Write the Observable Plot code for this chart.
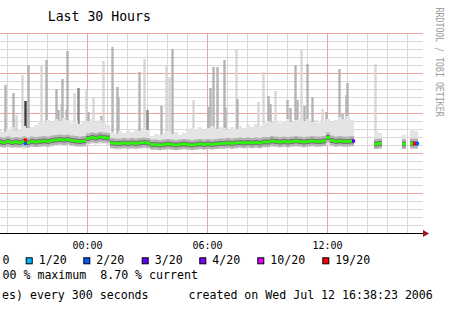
<!DOCTYPE html>
<html><head><meta charset="utf-8">
<script src="https://cdn.jsdelivr.net/npm/d3@7"></script>
<script src="https://cdn.jsdelivr.net/npm/@observablehq/plot@0.6"></script>
<style>
html,body{margin:0;padding:0;background:#fff;}
#wrap{position:relative;width:450px;height:313px;overflow:hidden;background:#fff;}
#wrap svg{position:absolute;left:0;top:0;}
</style></head><body><div id="wrap"></div>
<script>
// ---- data (RRD-style: start time + 12-minute step) ----
const startTime = "11 19:39";
const endTime = "12 16:48";
const stepMinutes = 12;
const median = [91.5, 91, 92, 91, 91.5, 91, 92, 91, 92, 91.5,
 92, 92.5, 92, 93, 93.5, 94, 93.5, 94, 93, 92.5,
 92, 92.5, 95, 96, 95.5, 96.5, 96, 95.5, 90.5, 90,
 90, 90.5, 90, 90.5, 90, 90.5, 91, 90.5, 89, 89,
 88.5, 89, 89.5, 89, 88.5, 89, 89.5, 89, 88.5, 89,
 89.5, 89, 89.5, 89, 89.5, 90, 90, 90.5, 90, 90.5,
 91, 90.5, 91, 90.5, 91, 90.5, 91.5, 91.5, 92.5, 92,
 91.5, 92, 91.5, 92, 92.5, 92, 91.5, 92, 92.5, 92,
 92, 92.5, 96, 93, 92, 92.5, 92, 92, 92.5,
 null, null, null, null, null, 89.5, 90, null, null, null, null, null, 89.5, null, 90, 90, null];
const smokeLow = [86, 86, 85.5, 86, 85, 86, 84, 85.5,
 86, 86.5, 86, 86, 85.5, 86, 87, 87.5, 87, 87.5, 87, 86, 86.5, 86,
 88, 89, 88.5, 89, 89, 88,
 84, 83.5, 83.5, 84, 83.5, 84, 83.5, 84, 84.5, 84,
 83, 83, 82.5, 83, 83.5, 83, 82.5, 83, 83.5, 83, 82.5, 83, 83.5, 83, 83.5, 84, 84, 84,
 84, 84.5, 84, 84.5, 85, 84.5, 85, 84.5, 85, 84.5, 85.5, 85.5, 86, 86, 85.5, 86, 85.5, 86, 86.5, 86,
 85.5, 86, 86.5, 86, 86, 86.5, 88, 86.5, 86, 86.5, 86, 86, 86.5,
 null, null, null, null, null, 84, 84.5, null, null, null, null, null, 84, null, 84.5, 84, null];
const smokeHigh = [103, 101, 104, 106, 102, 104, 107, 105,
 106, 108, 112, 110, 113, 111, 114, 112, 115, 113, 110, 112, 109, 111,
 112, 114, 111, 113, 110, 108,
 101, 99, 102, 100, 103, 101, 104, 102, 105, 103,
 97, 99, 98, 100, 102, 99, 101, 98, 100, 103, 105, 104, 106, 103, 105, 107, 104, 106,
 105, 103, 106, 104, 107, 105, 108, 106, 109, 107, 110, 112, 111, 113, 110, 112, 114, 111, 113, 115,
 112, 114, 111, 113, 110, 112, 114, 111, 113, 116, 114, 117, 113,
 null, null, null, null, null, 102, 100, null, null, null, null, null, 98, null, 104, 102, null];

const spikeTimes = ["11 19:54","11 20:18","11 20:27","11 20:45","11 20:54","11 21:03","11 21:42","11 21:57","11 22:27","11 22:33",
 "11 22:42","11 22:45","11 22:57","11 23:00","11 23:21","11 23:33","11 23:57","12 00:03","12 00:18","12 00:42",
 "12 00:48","12 01:15","12 01:30","12 01:33","12 02:36","12 02:51","12 03:00","12 03:42","12 03:57","12 04:06",
 "12 04:15","12 05:18","12 06:03","12 06:09","12 06:18","12 06:30","12 06:51","12 06:54","12 07:27","12 07:30",
 "12 08:33","12 08:48","12 09:03","12 09:09","12 09:24","12 10:00","12 10:09","12 10:24","12 10:30","12 10:42",
 "12 10:51","12 11:00","12 11:15","12 11:45","12 11:57","12 12:36","12 12:45","12 12:57","12 13:00","12 14:24"];
const spikeTops = [148,140,118,158,132,168,168,173,144,123, 129,154,123,182,140,145,144,121,135,117,
 172,186,146,136,161,174,123,127,168,156, 184,133,126,145,166,166,173,125,184,134,
 131,161,137,129,142,133,125,168,133,183, 127,169,136,124,121,164,119,138,150,169];
const spikeShades = ["m","m","l","l","k","m","l","m","m","m", "l","m","m","m","l","d","l","m","l","m",
 "l","m","m","m","m","l","d","m","l","l", "m","l","m","m","m","m","m","m","l","m",
 "l","l","m","m","l","m","m","m","m","l", "m","m","m","l","m","m","m","m","m","l"];

const lossTimes = ["11 20:54", "11 20:54", "12 13:18", "12 16:21", "12 16:30"];
const lossValues = [93.5, 90, 92.5, 90, 90];
const lossLevels = [19, 2, 3, 19, 2];

const legendLevels = [1, 2, 3, 4, 10, 19];
const legendLabels = ["1/20", "2/20", "3/20", "4/20", "10/20", "19/20"];
const xTickTimes = ["12 00:00", "12 06:00", "12 12:00"];
const titleText = "Last 30 Hours";
const statsText = "00 % maximum  8.70 % current";
const stepText = "es) every 300 seconds";
const createdText = "created on Wed Jul 12 16:38:23 2006";
const watermark = "RRDTOOL / TOBI OETIKER";

// ---- helpers ----
const T = s => { const [d, hm] = s.split(" "); const [h, m] = hm.split(":").map(Number); return new Date(Date.UTC(2006, 6, +d, h, m)); };
const lossColor = {0: "#26ff00", 1: "#00b8ff", 2: "#0059ff", 3: "#5e00ff", 4: "#7e00ff", 10: "#dd00ff", 19: "#ff0000"};
const shadeColor = {l: "#d6d6d6", m: "#b4b4b4", d: "#888888", k: "#3c3c3c"};
const t0 = T(startTime), t1 = T(endTime);
const stepMs = stepMinutes * 60e3;
const samples = median.map((v, i) => ({t: new Date(+t0 + i * stepMs), med: v, lo: smokeLow[i], hi: smokeHigh[i]}))
  .filter(d => d.med != null);
const half = stepMs / 2;
const x1 = d => new Date(+d.t - half), x2 = d => new Date(+d.t + half);
const spikes = spikeTimes.map((s, i) => ({t: T(s), top: spikeTops[i], shade: spikeShades[i]}));
const losses = lossTimes.map((s, i) => ({t: T(s), v: lossValues[i], level: lossLevels[i]}));

const hours = d3.utcHour.range(t0, t1);
const minorHours = hours.filter(h => h.getUTCHours() % 6 !== 0);
const majorHours = hours.filter(h => h.getUTCHours() % 6 === 0);
const yMinor = d3.range(0, 201, 8).filter(v => v % 40 !== 0);
const yMajor = d3.range(0, 201, 40);

const chart = Plot.plot({
  width: 450, height: 313,
  marginLeft: 0, marginRight: 27, marginTop: 33, marginBottom: 80,
  style: {fontFamily: "'DejaVu Sans Mono', monospace", background: "transparent", overflow: "visible"},
  x: {type: "utc", domain: [t0, t1], label: null, axis: null},
  y: {domain: [0, 200], label: null, axis: null},
  marks: [
    Plot.ruleY(yMinor, {stroke: "#d8d8d8"}),
    Plot.ruleX(minorHours, {stroke: "#d8d8d8"}),
    Plot.ruleY(yMajor, {stroke: "#eea4a4"}),
    Plot.ruleX(majorHours, {stroke: "#eea4a4"}),
    Plot.ruleX(spikes, {x: "t", y1: 90, y2: "top", stroke: d => shadeColor[d.shade], strokeWidth: 2.4}),
    Plot.rect(samples, {x1, x2, y1: "lo", y2: "hi", fill: "#e4e4e4"}),
    Plot.ruleY(samples, {x1, x2, y: "med", stroke: "#b4b4b4", strokeWidth: 10}),
    Plot.ruleY(samples, {x1, x2, y: "med", stroke: "#777777", strokeWidth: 5}),
    Plot.ruleY(samples, {x1, x2, y: "med", stroke: lossColor[0], strokeWidth: 2.6}),
    Plot.dot(losses, {x: "t", y: "v", symbol: "square", r: 1.8, fill: d => lossColor[d.level]}),
    Plot.ruleY([0], {stroke: "#000"}),
    Plot.dot([t1], {x: d => d, y: 0, symbol: "triangle", rotate: 90, r: 2.6, fill: "#a01818", dx: 1.5}),
    Plot.axisX(xTickTimes.map(T), {tickFormat: d3.utcFormat("%H:%M"), tickSize: 0, tickPadding: 8, fontSize: 10, fill: "#000", label: null})
  ]
});
const wrap = document.getElementById("wrap");
wrap.appendChild(chart);

// ---- text overlay (title, legend, footer, watermark) ----
const ov = d3.create("svg").attr("width", 450).attr("height", 313)
  .style("font-family", "'DejaVu Sans Mono', monospace");
const txt = (x, y, s, size, fill = "#000") => ov.append("text").attr("x", x).attr("y", y)
  .attr("font-size", size).attr("fill", fill).attr("xml:space", "preserve").style("white-space", "pre").text(s);
txt(47.7, 20.7, titleText, 13.2);
txt(2.5, 264.3, "0", 11.6);
const boxX = [25.7, 83.3, 141.7, 199.3, 257.3, 322.3];
legendLevels.forEach((lv, i) => {
  ov.append("rect").attr("x", boxX[i] + 0.5).attr("y", 257.8).attr("width", 6).attr("height", 6)
    .attr("fill", lossColor[lv]).attr("stroke", "#000").attr("stroke-width", 1);
  txt(boxX[i] + 13, 264.3, legendLabels[i], 11.6);
});
txt(2.5, 279.3, statsText, 11.6);
txt(2, 299, stepText, 11.6);
txt(188.5, 299, createdText, 11.6);
ov.append("text").attr("transform", "translate(435.8,7.6) rotate(90)")
  .attr("font-size", 10).attr("fill", "#a0a0a0").attr("textLength", 109).attr("lengthAdjust", "spacingAndGlyphs")
  .text(watermark);
wrap.appendChild(ov.node());
</script></body></html>
